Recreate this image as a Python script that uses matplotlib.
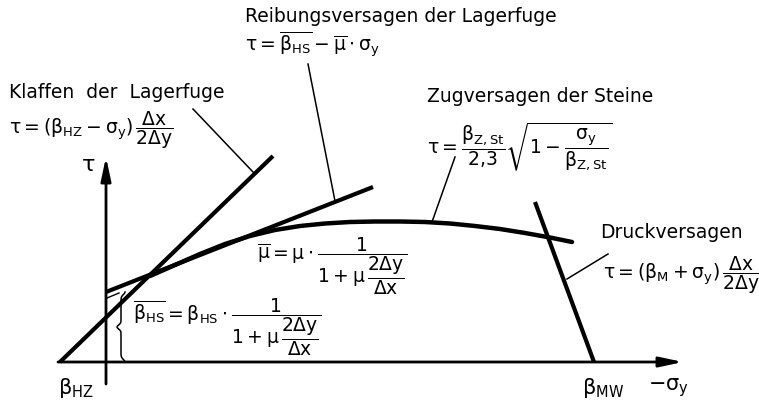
import matplotlib
matplotlib.use("Agg")
import matplotlib.pyplot as plt
import numpy as np

plt.rcParams["font.family"] = "DejaVu Sans"
plt.rcParams["mathtext.fontset"] = "dejavusans"
plt.rcParams["mathtext.default"] = "regular"

# data in diagram units: x = -sigma_y, y = tau (origin at the tau axis)
beta_HZ = -46
beta_MW = 488
beta_HS_bar = 70

klaffen_x = [beta_HZ, 167]
klaffen_y = [0, 206]

reibung_x = [0, 267]
reibung_y = [beta_HS_bar, 175]

zug_x = [44, 69, 94, 119, 144, 169, 194, 219, 244, 269, 294, 319, 344, 369, 394, 419, 444, 466]
zug_y = [86, 97, 108, 118, 126, 132, 136, 138.5, 140, 140.5, 140.5, 140, 138.5, 136, 133, 129, 124.5, 120]

druck_x = [429, beta_MW]
druck_y = [160, 0]

# leader lines (label end, curve end)
leader_klaffen = ([87, 147], [253, 190])
leader_reibung = ([202, 229], [298, 161])
leader_zug = ([349, 326], [205, 140])
leader_druck = ([502, 461], [108, 83])

FS = 13.5
MATH_FS = 13.5


def brace(ax, x, y0, y1, w=4):
    # curly brace: hooks at both ends, nose in the middle
    t = np.linspace(0, 1, 80)
    y = y0 + (y1 - y0) * t
    xs = x + w * (np.exp(-(t / 0.05) ** 2) + np.exp(-((t - 1.0) / 0.05) ** 2)
                  - np.exp(-((t - 0.5) / 0.04) ** 2))
    ax.plot(xs, y, color="k", lw=1.1)


fig = plt.figure(figsize=(7.59, 4.06), dpi=100)
ax = fig.add_axes([0, 0, 1, 1])
ax.set_xlim(-106, 653)
ax.set_ylim(-43, 363)
ax.axis("off")

arrow = dict(arrowstyle="-|>,head_length=1.4,head_width=0.3",
             lw=2, color="k", shrinkA=0, shrinkB=0)
ax.annotate("", xy=(577, 0), xytext=(beta_HZ - 2, 0), arrowprops=arrow)
ax.annotate("", xy=(0, 205), xytext=(0, -22), arrowprops=arrow)

# failure curves
ax.plot(klaffen_x, klaffen_y, color="k", lw=3, solid_capstyle="butt")
ax.plot(reibung_x, reibung_y, color="k", lw=3, solid_capstyle="butt")
ax.plot(zug_x, zug_y, color="k", lw=3.2, solid_capstyle="round", solid_joinstyle="round")
ax.plot(druck_x, druck_y, color="k", lw=3, solid_capstyle="butt")

for lx, ly in [leader_klaffen, leader_reibung, leader_zug, leader_druck]:
    ax.plot(lx, ly, color="k", lw=1.1)

brace(ax, 15, 0, beta_HS_bar)
ax.plot([1, 13], [64, 69], color="k", lw=1)

# labels
ax.text(-97, 271, "Klaffen  der  Lagerfuge", fontsize=FS, ha="left", va="center")
ax.text(-97, 233, r"$\tau = (\beta_{HZ} - \sigma_y)\,\dfrac{\Delta x}{2\Delta y}$",
        fontsize=MATH_FS, ha="left", va="center")

ax.text(139, 346, "Reibungsversagen der Lagerfuge", fontsize=FS, ha="left", va="center")
ax.text(139, 318, r"$\tau = \overline{\beta_{HS}} - \overline{\mu}\cdot\sigma_y$",
        fontsize=MATH_FS, ha="left", va="center")

ax.text(321, 266, "Zugversagen der Steine", fontsize=FS, ha="left", va="center")
ax.text(321, 216, r"$\tau = \dfrac{\beta_{Z,St}}{2{,}3}\sqrt{1 - \dfrac{\sigma_y}{\beta_{Z,St}}}$",
        fontsize=MATH_FS, ha="left", va="center")

ax.text(151, 97, r"$\overline{\mu} = \mu\cdot\dfrac{1}{1+\mu\,\dfrac{2\Delta y}{\Delta x}}$",
        fontsize=MATH_FS, ha="left", va="center")
ax.text(27, 36, r"$\overline{\beta_{HS}} = \beta_{HS}\cdot\dfrac{1}{1+\mu\,\dfrac{2\Delta y}{\Delta x}}$",
        fontsize=MATH_FS, ha="left", va="center")

ax.text(494, 130, "Druckversagen", fontsize=FS, ha="left", va="center")
ax.text(497, 88, r"$\tau = (\beta_M + \sigma_y)\,\dfrac{\Delta x}{2\Delta y}$",
        fontsize=MATH_FS, ha="left", va="center")

ax.text(-18, 198, r"$\tau$", fontsize=16, ha="center", va="center")
ax.text(-48, -25, r"$\beta_{HZ}$", fontsize=15, ha="left", va="center")
ax.text(476, -25, r"$\beta_{MW}$", fontsize=15, ha="left", va="center")
ax.text(542, -25, r"$-\sigma_y$", fontsize=15, ha="left", va="center")

fig.savefig("out.png", dpi=100)
plt.close(fig)
